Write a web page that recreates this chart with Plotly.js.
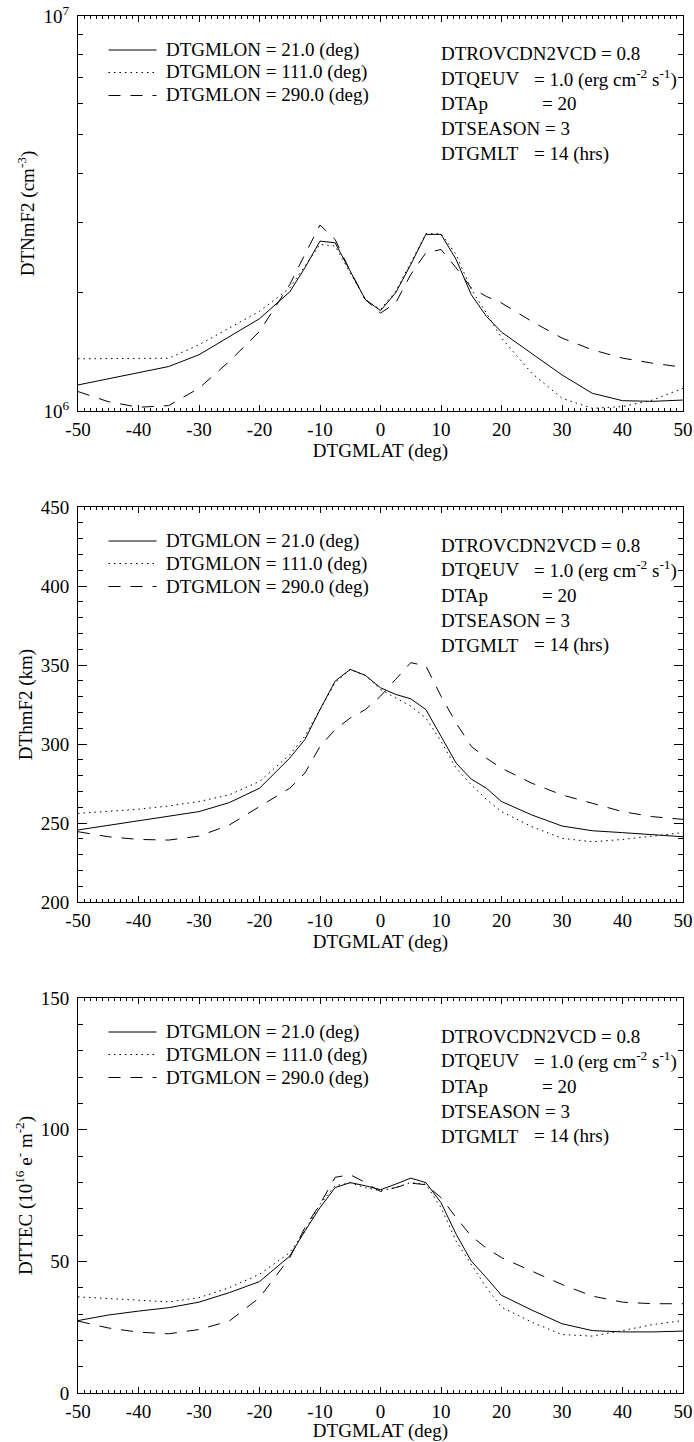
<!DOCTYPE html>
<html><head><meta charset="utf-8">
<script src="https://cdn.plot.ly/plotly-3.0.1.min.js"></script>
<style>html,body{margin:0;padding:0;background:#fff}</style>
</head><body><div id="chart" style="width:694px;height:1442px"></div>
<script>
// ---------------- data ----------------
const lat = [-50,-45,-40,-35,-30,-25,-20,-15,-12.5,-10,-7.5,-5,-2.5,0,2.5,5,7.5,10,12.5,15,17.5,20,25,30,35,40,45,50];

const seriesNames = ['DTGMLON = 21.0 (deg)', 'DTGMLON = 111.0 (deg)', 'DTGMLON = 290.0 (deg)'];

// NmF2 (cm^-3)
const nmf2_lon21  = [1.164e6,1.206e6,1.249e6,1.296e6,1.388e6,1.545e6,1.713e6,2.002e6,2.304e6,2.692e6,2.666e6,2.259e6,1.914e6,1.795e6,1.991e6,2.349e6,2.80e6,2.80e6,2.419e6,1.971e6,1.736e6,1.584e6,1.401e6,1.234e6,1.109e6,1.062e6,1.058e6,1.066e6];
const nmf2_lon111 = [1.356e6,1.356e6,1.356e6,1.36e6,1.471e6,1.622e6,1.788e6,2.049e6,2.326e6,2.641e6,2.616e6,2.235e6,1.914e6,1.806e6,2.009e6,2.37e6,2.81e6,2.81e6,2.49e6,2.03e6,1.77e6,1.53e6,1.247e6,1.077e6,1.016e6,1.026e6,1.066e6,1.142e6];
const nmf2_lon290 = [1.12e6,1.056e6,1.022e6,1.032e6,1.142e6,1.335e6,1.59e6,2.09e6,2.49e6,2.957e6,2.718e6,2.259e6,1.914e6,1.77e6,1.877e6,2.215e6,2.515e6,2.564e6,2.304e6,2.049e6,1.95e6,1.877e6,1.686e6,1.53e6,1.429e6,1.361e6,1.321e6,1.291e6];

// hmF2 (km)
const hmf2_lon21  = [245.6,248.5,251.5,254,257.2,262.9,272,291.1,302.8,321.8,339.8,347.2,343.4,335.6,331.4,328.6,321.8,304.9,287.9,277.8,272,263.6,255.1,248.1,245.1,243.9,242.4,241.3];
const hmf2_lon111 = [256.1,257.2,258.7,260.8,263.6,267.8,276.3,293.2,304.9,321.8,338.8,347.2,343.4,334.5,329.2,323.9,316.5,301.7,284.7,274.2,265,257.2,247.7,240.3,238.1,239.6,241.7,243.9];
const hmf2_lon290 = [244.5,241.3,239.6,239.2,241.7,248.7,260.4,272,281.6,298.5,309.1,316.5,321.8,330.3,340.9,351.5,349.4,330.3,313.3,298.5,291,284.7,275.2,267.8,262.5,257.2,254,252.3];

// TEC (10^16 e- m^-2)
const tec_lon21  = [27.5,29.6,31.1,32.4,34.5,38.1,42.3,52,61.5,70.4,78,79.9,78.7,77.2,79.3,81.6,79.9,72.3,60.3,50.1,43.8,37.1,31.5,26.3,23.7,23.2,23.2,23.5];
const tec_lon111 = [36.5,35.8,35.2,34.6,36.2,40,45.1,53.3,61.5,71.7,78.7,79.8,78,76.8,78,79.9,79.3,70.4,57.7,48.9,40,32.6,26.9,22.2,21.6,23.7,26,27.5];
const tec_lon290 = [27.3,24.7,23.1,22.5,24.1,27.3,36.2,51.4,62.8,71.7,81.9,82.9,79.9,76.5,78,79.7,79.1,74.2,66.6,59.6,55,51.4,46.3,41.2,36.8,34.5,33.9,33.9];

// tick labels
const xTickVals = [-50,-40,-30,-20,-10,0,10,20,30,40,50];
const xTickText = ['-50','-40','-30','-20','-10','0','10','20','30','40','50'];
const nmTickVals = [1e6, 1e7];
const nmTickText = ['10<sup>6</sup>', '10<sup>7</sup>'];
const hmTickVals = [200,250,300,350,400,450];
const hmTickText = ['200','250','300','350','400','450'];
const tecTickVals = [0,50,100,150];
const tecTickText = ['0','50','100','150'];

const yTitles = ['DTNmF2 (cm<sup>-3</sup>)', 'DThmF2 (km)', 'DTTEC (10<sup>16</sup> e<sup>-</sup> m<sup>-2</sup>)'];
const xTitle = 'DTGMLAT (deg)';

const paramLabels = ['DTROVCDN2VCD = 0.8', 'DTQEUV', 'DTAp', 'DTSEASON = 3', 'DTGMLT'];
const paramValues = ['', '= 1.0 (erg cm<sup>-2</sup> s<sup>-1</sup>)', '= 20', '', '= 14 (hrs)'];

// ---------------- styling / layout ----------------
const FONT = '"Liberation Serif", "Times New Roman", serif';
const FS = 19;
const dashes = ['solid', '1.5px,4px', '12px,10px'];
const H = 1442;
const MT = 16, MB = 49;
const plotH = H - MT - MB;
const panelTopPx = [16, 507, 998];
const panelHPx = 395;

function range(a, b, step, skipEvery) {
  const out = [];
  for (let v = a; v <= b + 1e-9; v += step) {
    if (skipEvery && Math.abs(Math.round(v / skipEvery) * skipEvery - v) < 1e-9) continue;
    out.push(v);
  }
  return out;
}
const xMinor = range(-50, 50, 1, 10);
const nmMinor = [2e6,3e6,4e6,5e6,6e6,7e6,8e6,9e6];
const hmMinor = range(200, 450, 10, 50);
const tecMinor = range(0, 150, 10, 50);

const panels = [
  {series: [nmf2_lon21, nmf2_lon111, nmf2_lon290], type: 'log', range: [6, 7], tv: nmTickVals, tt: nmTickText, minor: nmMinor},
  {series: [hmf2_lon21, hmf2_lon111, hmf2_lon290], type: 'linear', range: [200, 450], tv: hmTickVals, tt: hmTickText, minor: hmMinor},
  {series: [tec_lon21, tec_lon111, tec_lon290], type: 'linear', range: [0, 150], tv: tecTickVals, tt: tecTickText, minor: tecMinor}
];

const traces = [];
const layout = {
  width: 694, height: H,
  margin: {l: 78, r: 11, t: MT, b: MB},
  paper_bgcolor: '#fff', plot_bgcolor: '#fff',
  showlegend: false,
  font: {family: FONT, size: FS, color: '#000'},
  annotations: [], shapes: []
};

const legendRowsPx = [34, 56.5, 79.5];
const paramRowsPx = [38, 62.5, 88, 113, 138];

panels.forEach((p, i) => {
  const sfx = i === 0 ? '' : String(i + 1);
  const top = panelTopPx[i], bot = top + panelHPx;
  const dom = [Math.max(0, (H - MB - bot) / plotH), Math.min(1, (H - MB - top) / plotH)];
  p.series.forEach((ys, k) => {
    traces.push({
      x: lat, y: ys, type: 'scatter', mode: 'lines', name: seriesNames[k],
      xaxis: 'x' + sfx, yaxis: 'y' + sfx,
      line: {color: '#000', width: 1, dash: dashes[k]}, hoverinfo: 'x+y'
    });
  });
  layout['xaxis' + sfx] = {
    domain: [0, 1], anchor: 'y' + sfx, range: [-50, 50],
    tickmode: 'array', tickvals: xTickVals, ticktext: xTickText,
    ticks: 'inside', ticklen: 6, tickwidth: 1, tickcolor: '#000',
    minor: {tickmode: 'array', tickvals: xMinor, ticks: 'inside', ticklen: 3, tickwidth: 1, tickcolor: '#000', showgrid: false},
    showline: true, linecolor: '#000', linewidth: 1, mirror: 'ticks',
    showgrid: false, zeroline: false,
    tickfont: {family: FONT, size: FS, color: '#000'}, ticklabelstandoff: 1,
    title: {text: xTitle, font: {family: FONT, size: FS, color: '#000'}, standoff: 2}
  };
  layout['yaxis' + sfx] = {
    domain: dom, anchor: 'x' + sfx, type: p.type, range: p.range,
    tickmode: 'array', tickvals: p.tv, ticktext: p.tt,
    ticks: 'inside', ticklen: 9, tickwidth: 1, tickcolor: '#000',
    minor: {tickmode: 'array', tickvals: p.minor, ticks: 'inside', ticklen: 5, tickwidth: 1, tickcolor: '#000', showgrid: false},
    showline: true, linecolor: '#000', linewidth: 1, mirror: 'ticks',
    showgrid: false, zeroline: false,
    tickfont: {family: FONT, size: FS, color: '#000'}, ticklabelstandoff: 4,
    title: {text: yTitles[i], font: {family: FONT, size: FS, color: '#000'}, standoff: 3}
  };
  // legend (line samples + labels)
  legendRowsPx.forEach((r, k) => {
    const yd = 1 - r / panelHPx;
    layout.shapes.push({type: 'line', xref: 'x' + sfx + ' domain', yref: 'y' + sfx + ' domain',
      x0: 0.0504, x1: 0.1298, y0: yd, y1: yd, line: {color: '#000', width: 1, dash: dashes[k]}});
    layout.annotations.push({xref: 'x' + sfx + ' domain', yref: 'y' + sfx + ' domain',
      x: 0.142, y: yd, xanchor: 'left', yanchor: 'middle', showarrow: false,
      text: seriesNames[k], font: {family: FONT, size: FS, color: '#000'}});
  });
  // parameter block
  paramRowsPx.forEach((r, k) => {
    const yd = 1 - r / panelHPx;
    layout.annotations.push({xref: 'x' + sfx + ' domain', yref: 'y' + sfx + ' domain',
      x: 0.597, y: yd, xanchor: 'left', yanchor: 'middle', showarrow: false,
      text: paramLabels[k], font: {family: FONT, size: FS, color: '#000'}});
    if (paramValues[k]) {
      const xPx = k === 2 ? 540 : 531.5;
      layout.annotations.push({xref: 'x' + sfx + ' domain', yref: 'y' + sfx + ' domain',
        x: (xPx - 78) / 605, y: yd, xanchor: 'left', yanchor: 'middle', showarrow: false,
        text: paramValues[k], font: {family: FONT, size: FS, color: '#000'}});
    }
  });
});

Plotly.newPlot('chart', traces, layout, {staticPlot: true, displayModeBar: false});
</script>
</body></html>
